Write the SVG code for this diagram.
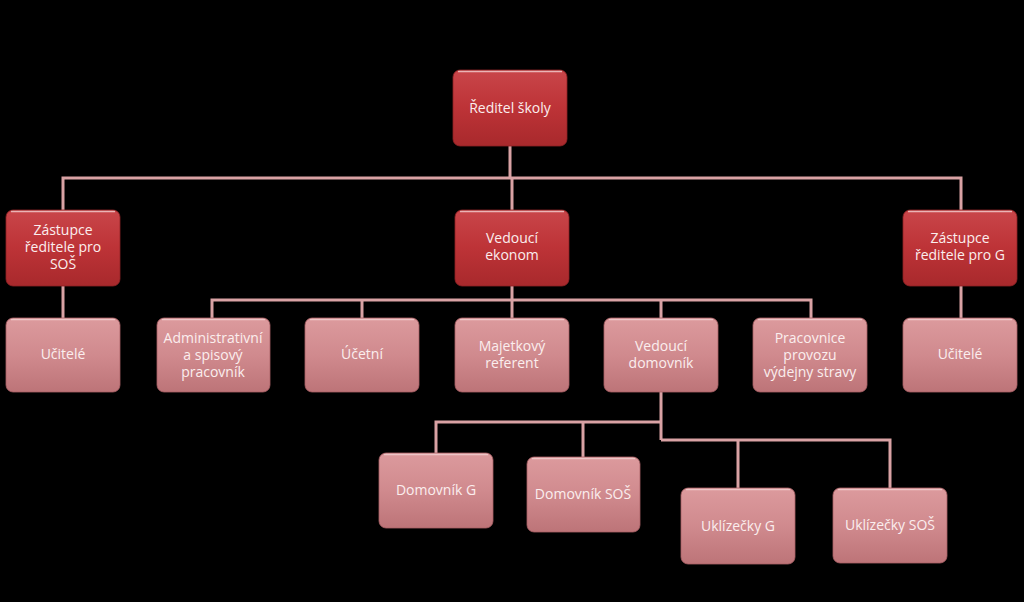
<svg xmlns="http://www.w3.org/2000/svg" width="1024" height="602" viewBox="0 0 1024 602">
<defs>
<linearGradient id="gRed" x1="0" y1="0" x2="0" y2="1">
<stop offset="0" stop-color="#c9464a"/><stop offset="0.5" stop-color="#bd3337"/><stop offset="1" stop-color="#a8292c"/>
</linearGradient>
<linearGradient id="gPink" x1="0" y1="0" x2="0" y2="1">
<stop offset="0" stop-color="#dc9a9d"/><stop offset="0.5" stop-color="#d08a8e"/><stop offset="1" stop-color="#bd7478"/>
</linearGradient>
</defs>
<style>
.red{fill:url(#gRed);stroke:#8e2224;stroke-width:0.8}
.pink{fill:url(#gPink);stroke:#a86064;stroke-width:0.8}
.gloss{fill:none;stroke:#f3d0d1;stroke-width:1.5;stroke-opacity:0.8}
text{font-family:"Open Sans","Liberation Sans",sans-serif;font-size:14px;fill:#fbeeee;text-anchor:middle}
.conn{fill:none;stroke:#d9a2a4;stroke-width:3}
</style>
<rect width="1024" height="602" fill="#000"/>
<g id="connectors" class="conn">
<path d="M510 146 V178 M63 210 V178 H961 V210 M512 178 V210"/>
<path d="M63 286 V318 M961 286 V318"/>
<path d="M512 286 V300 M212 318 V300 H811 V318 M362 300 V318 M512 300 V318 M661 300 V318"/>
<path d="M661 392 V440 M436 453 V422 H661 M583 422 V457 M661 440 H890 V488 M738 440 V488"/>
</g>
<g id="n-reditel"><rect class="red" x="453" y="70" width="114" height="76" rx="7"/><path class="gloss" d="M458 71.5 H562"/><text x="510" y="113">Ředitel školy</text></g>
<g id="n-zast-sos"><rect class="red" x="6" y="210" width="114" height="76" rx="7"/><path class="gloss" d="M11 211.5 H115"/><text x="63" y="235">Zástupce</text><text x="63" y="252">ředitele pro</text><text x="63" y="269">SOŠ</text></g>
<g id="n-ekonom"><rect class="red" x="455" y="210" width="114" height="76" rx="7"/><path class="gloss" d="M460 211.5 H564"/><text x="512" y="243">Vedoucí</text><text x="512" y="260">ekonom</text></g>
<g id="n-zast-g"><rect class="red" x="903" y="210" width="114" height="76" rx="7"/><path class="gloss" d="M908 211.5 H1012"/><text x="960" y="243">Zástupce</text><text x="960" y="260">ředitele pro G</text></g>
<g id="n-ucitele-sos"><rect class="pink" x="6" y="318" width="114" height="74" rx="7"/><path class="gloss" d="M11 319.5 H115"/><text x="63" y="359">Učitelé</text></g>
<g id="n-admin"><rect class="pink" x="157" y="318" width="113" height="74" rx="7"/><path class="gloss" d="M162 319.5 H265"/><text x="213" y="343">Administrativní</text><text x="213" y="360">a spisový</text><text x="213" y="377">pracovník</text></g>
<g id="n-ucetni"><rect class="pink" x="305" y="318" width="114" height="74" rx="7"/><path class="gloss" d="M310 319.5 H414"/><text x="362" y="359">Účetní</text></g>
<g id="n-majetkovy"><rect class="pink" x="455" y="318" width="114" height="74" rx="7"/><path class="gloss" d="M460 319.5 H564"/><text x="512" y="351">Majetkový</text><text x="512" y="368">referent</text></g>
<g id="n-ved-domovnik"><rect class="pink" x="604" y="318" width="114" height="74" rx="7"/><path class="gloss" d="M609 319.5 H713"/><text x="661" y="351">Vedoucí</text><text x="661" y="368">domovník</text></g>
<g id="n-pracovnice"><rect class="pink" x="753" y="318" width="114" height="74" rx="7"/><path class="gloss" d="M758 319.5 H862"/><text x="810" y="343">Pracovnice</text><text x="810" y="360">provozu</text><text x="810" y="377">výdejny stravy</text></g>
<g id="n-ucitele-g"><rect class="pink" x="903" y="318" width="114" height="74" rx="7"/><path class="gloss" d="M908 319.5 H1012"/><text x="960" y="359">Učitelé</text></g>
<g id="n-domovnik-g"><rect class="pink" x="379" y="453" width="114" height="75" rx="7"/><path class="gloss" d="M384 454.5 H488"/><text x="436" y="495">Domovník G</text></g>
<g id="n-domovnik-sos"><rect class="pink" x="527" y="457" width="113" height="75" rx="7"/><path class="gloss" d="M532 458.5 H635"/><text x="583" y="499">Domovník SOŠ</text></g>
<g id="n-uklizecky-g"><rect class="pink" x="681" y="488" width="114" height="76" rx="7"/><path class="gloss" d="M686 489.5 H790"/><text x="738" y="531">Uklízečky G</text></g>
<g id="n-uklizecky-sos"><rect class="pink" x="833" y="488" width="114" height="75" rx="7"/><path class="gloss" d="M838 489.5 H942"/><text x="890" y="530">Uklízečky SOŠ</text></g>
</svg>
